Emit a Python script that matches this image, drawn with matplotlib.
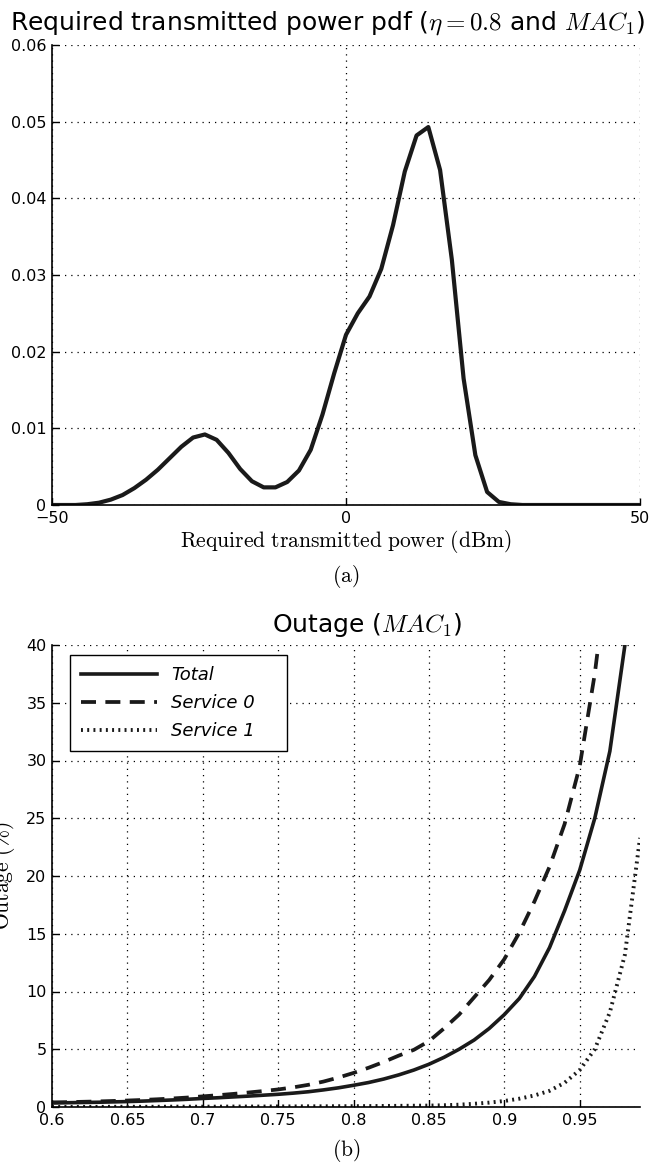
import numpy as np
import matplotlib
matplotlib.use('Agg')
import matplotlib.pyplot as plt

plt.rcParams['font.family'] = ['DejaVu Sans']
plt.rcParams['mathtext.fontset'] = 'cm'

# (a) pdf of required transmitted power
power_dbm = np.arange(-50, 51, 2)
pdf_vals = [0, 0, 0, 0.0001, 0.0003, 0.0007, 0.0013, 0.0022, 0.0033, 0.0046,
            0.0061, 0.0076, 0.0088, 0.0092, 0.0085, 0.0068, 0.0047, 0.0031, 0.0023, 0.0023,
            0.0030, 0.0045, 0.0072, 0.0118, 0.0172, 0.0222, 0.0250, 0.0272, 0.0308, 0.0365,
            0.0435, 0.0482, 0.0493, 0.0437, 0.0320, 0.0165, 0.0065, 0.0017, 0.0004, 0.0001,
            0, 0, 0, 0, 0, 0, 0, 0, 0, 0, 0]

# (b) outage vs eta
eta = np.round(np.arange(0.60, 0.995, 0.01), 2)
outage_total = [0.35, 0.37, 0.39, 0.41, 0.44, 0.47, 0.51, 0.56, 0.61, 0.67,
                0.74, 0.80, 0.87, 0.94, 1.02, 1.10, 1.20, 1.32, 1.48, 1.66,
                1.88, 2.12, 2.42, 2.78, 3.20, 3.70, 4.30, 5.00, 5.80, 6.80,
                8.00, 9.40, 11.3, 13.8, 17.0, 20.5, 25.0, 30.8, 40.0, 52.0]
outage_s0 = [0.40, 0.42, 0.45, 0.48, 0.52, 0.56, 0.61, 0.67, 0.74, 0.82,
             0.92, 1.02, 1.13, 1.25, 1.38, 1.52, 1.70, 1.92, 2.20, 2.55,
             2.95, 3.40, 3.90, 4.45, 4.95, 5.70, 6.80, 8.00, 9.50, 11.0,
             12.8, 15.1, 17.8, 20.8, 24.5, 29.5, 37.5, 48.0, 60.0, 75.0]
outage_s1 = [0.01, 0.01, 0.01, 0.01, 0.02, 0.02, 0.02, 0.02, 0.03, 0.03,
             0.03, 0.03, 0.04, 0.04, 0.04, 0.05, 0.05, 0.06, 0.06, 0.07,
             0.07, 0.08, 0.09, 0.10, 0.11, 0.12, 0.15, 0.20, 0.28, 0.38,
             0.52, 0.72, 1.00, 1.40, 2.10, 3.20, 5.00, 8.20, 13.2, 23.3]

grid_style = dict(color='k', linestyle=(0, (1, 4)), linewidth=0.9)
tick_fs = 11.5
serif_fs = 15.5
title_fs = 18
ink = '#1a1a1a'


def style_axes(ax):
    ax.spines['top'].set_visible(False)
    ax.spines['right'].set_visible(False)
    for s in ('left', 'bottom'):
        ax.spines[s].set_linewidth(1.2)
    ax.tick_params(direction='in', length=5, width=1, labelsize=tick_fs, pad=4)
    ax.grid(True, **grid_style)
    ax.set_axisbelow(True)


fig = plt.figure(figsize=(6.54, 11.66), dpi=100)

# top panel
ax1 = fig.add_axes([52/654, 1-505/1166, 588/654, 460/1166])
ax1.plot(power_dbm, pdf_vals, color=ink, lw=3.0)
ax1.set_xlim(-50, 50)
ax1.set_ylim(0, 0.06)
ax1.set_xticks([-50, 0, 50])
ax1.set_xticklabels(['\u221250', '0', '50'])
ax1.set_yticks([0, 0.01, 0.02, 0.03, 0.04, 0.05, 0.06])
ax1.set_yticklabels(['0', '0.01', '0.02', '0.03', '0.04', '0.05', '0.06'])
style_axes(ax1)
ax1.set_xlabel(r'$\mathrm{Required\ transmitted\ power\ (dBm)}$', fontsize=serif_fs, labelpad=2)
ax1.set_title(r'Required transmitted power pdf ($\eta = 0.8$ and $MAC_1$)',
              fontsize=title_fs, x=0.468, pad=11)
fig.text(346/654, 1-577/1166, r'$\mathrm{(a)}$', fontsize=serif_fs, ha='center', va='center')

# bottom panel
ax2 = fig.add_axes([52/654, 1-1107/1166, 588/654, 462/1166])
ax2.plot(eta, outage_total, color=ink, lw=2.6, label='Total')
ax2.plot(eta, outage_s0, color=ink, lw=2.7, linestyle=(0, (4, 2.5)), label='Service 0')
ax2.plot(eta, outage_s1, color=ink, lw=2.8, linestyle=(0, (0.5, 1.1)), label='Service 1')
ax2.set_xlim(0.6, 0.99)
ax2.set_ylim(0, 40)
ax2.set_xticks([0.6, 0.65, 0.7, 0.75, 0.8, 0.85, 0.9, 0.95])
ax2.set_xticklabels(['0.6', '0.65', '0.7', '0.75', '0.8', '0.85', '0.9', '0.95'])
ax2.set_yticks(range(0, 41, 5))
style_axes(ax2)
ax2.set_ylabel(r'$\mathrm{Outage\ (\%)}$', fontsize=serif_fs)
ax2.yaxis.set_label_coords(-0.060, 0.5)
ax2.set_title(r'Outage ($MAC_1$)', fontsize=title_fs, x=0.536, pad=9)
leg = ax2.legend(loc='upper left', bbox_to_anchor=(0.031, 0.5, 0.369, 0.478), mode='expand',
                 prop={'family': 'DejaVu Sans', 'style': 'oblique', 'size': 13},
                 handlelength=4.2, handletextpad=0.8, labelspacing=0.55,
                 fancybox=False, edgecolor='k', framealpha=1, borderpad=0.6,
                 borderaxespad=0)
leg.get_frame().set_linewidth(1.0)
fig.text(346/654, 1-1150/1166, r'$\mathrm{(b)}$', fontsize=serif_fs, ha='center', va='center')

fig.savefig('out.png', dpi=100)
